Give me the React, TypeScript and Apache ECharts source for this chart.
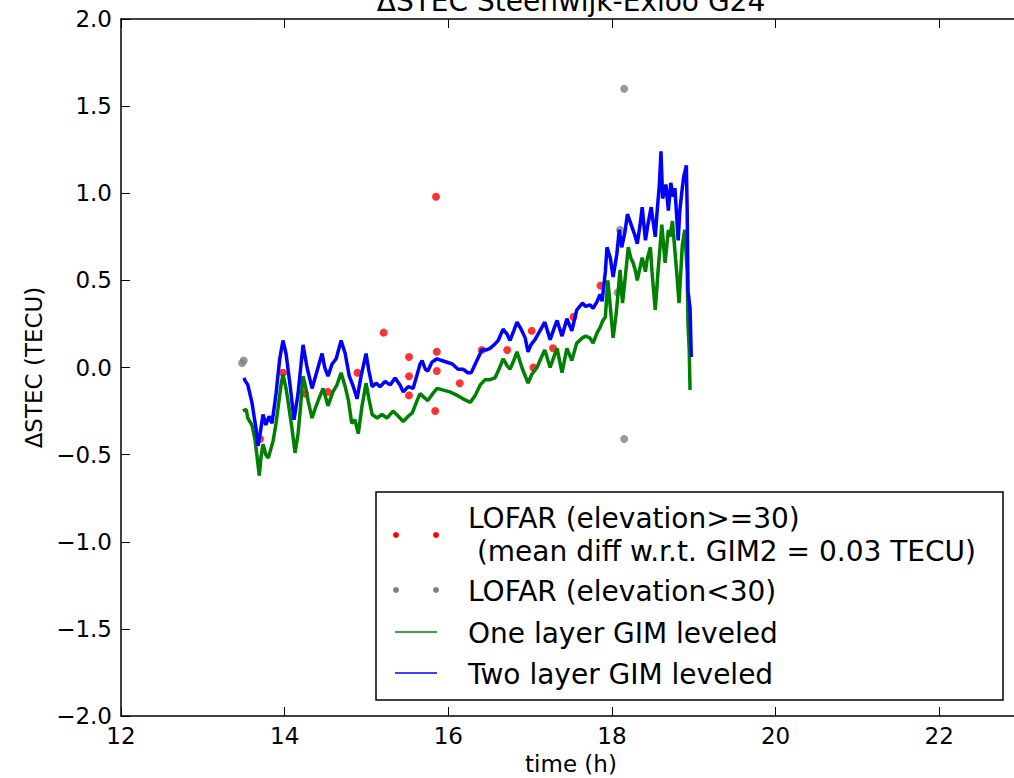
import React, { useEffect, useRef } from "react";
import * as echarts from "echarts";

// ---- data (time in hours, ΔSTEC in TECU) ----
const xTickLabels = ["12", "14", "16", "18", "20", "22"];
const yTickLabels = ["−2.0", "−1.5", "−1.0", "−0.5", "0.0", "0.5", "1.0", "1.5", "2.0"];

const twoLayer: [number, number][] = [
  [13.504, -0.06], [13.516, -0.075], [13.55, -0.1], [13.6, -0.2], [13.65, -0.35], [13.675, -0.45],
  [13.7, -0.38], [13.736, -0.27], [13.77, -0.33], [13.81, -0.28], [13.846, -0.32], [13.895, -0.15],
  [13.94, 0.05], [13.98, 0.155], [14.017, 0.08], [14.066, -0.1], [14.115, -0.3], [14.164, -0.15],
  [14.225, 0.13], [14.274, 0.0], [14.335, -0.12], [14.396, -0.02], [14.457, 0.08], [14.49, 0.0],
  [14.53, -0.05], [14.58, 0.02], [14.63, 0.05], [14.69, 0.155], [14.74, 0.08], [14.79, -0.05],
  [14.84, -0.11], [14.885, -0.18], [14.934, -0.05], [14.995, 0.08], [15.03, -0.02], [15.07, -0.11],
  [15.117, -0.09], [15.166, -0.11], [15.227, -0.08], [15.29, -0.1], [15.35, -0.06], [15.41, -0.1],
  [15.45, -0.14], [15.51, -0.11], [15.57, -0.12], [15.62, -0.04], [15.655, 0.02], [15.68, 0.04],
  [15.72, -0.01], [15.75, -0.02], [15.8, 0.03], [15.863, 0.05], [15.92, 0.04], [15.985, 0.03],
  [16.05, 0.02], [16.12, -0.01], [16.18, -0.01], [16.24, -0.03], [16.28, -0.03], [16.34, 0.03],
  [16.41, 0.1], [16.46, 0.1], [16.51, 0.11], [16.56, 0.13], [16.61, 0.155], [16.67, 0.22],
  [16.72, 0.19], [16.755, 0.155], [16.8, 0.21], [16.84, 0.26], [16.89, 0.22], [16.94, 0.17],
  [16.975, 0.09], [17.01, 0.13], [17.06, 0.16], [17.12, 0.21], [17.18, 0.26], [17.245, 0.16],
  [17.29, 0.22], [17.33, 0.27], [17.39, 0.18], [17.45, 0.28], [17.51, 0.21], [17.57, 0.33],
  [17.64, 0.37], [17.68, 0.35], [17.73, 0.36], [17.77, 0.34], [17.82, 0.38], [17.856, 0.42],
  [17.88, 0.38], [17.92, 0.55], [17.94, 0.69], [17.98, 0.63], [18.015, 0.52], [18.06, 0.65],
  [18.09, 0.79], [18.12, 0.69], [18.16, 0.78], [18.19, 0.88], [18.22, 0.84], [18.25, 0.8],
  [18.28, 0.76], [18.31, 0.71], [18.345, 0.82], [18.37, 0.92], [18.41, 0.73], [18.44, 0.82],
  [18.48, 0.92], [18.5, 0.85], [18.53, 0.75], [18.55, 0.88], [18.58, 1.05], [18.6, 1.24],
  [18.62, 0.97], [18.66, 1.05], [18.69, 0.9], [18.72, 1.06], [18.75, 0.98], [18.77, 1.03],
  [18.81, 0.73], [18.83, 0.9], [18.86, 1.03], [18.88, 1.1], [18.91, 1.16], [18.92, 0.9],
  [18.93, 0.44], [18.955, 0.34], [18.97, 0.06],
];

const oneLayer: [number, number][] = [
  [13.49, -0.25], [13.53, -0.24], [13.55, -0.29], [13.6, -0.33], [13.64, -0.42], [13.66, -0.5],
  [13.69, -0.62], [13.71, -0.52], [13.736, -0.44], [13.77, -0.5], [13.8, -0.52], [13.83, -0.47],
  [13.86, -0.42], [13.895, -0.32], [13.92, -0.23], [13.956, -0.1], [13.98, -0.04], [14.017, -0.12],
  [14.04, -0.19], [14.09, -0.35], [14.127, -0.49], [14.164, -0.38], [14.19, -0.25], [14.225, -0.05],
  [14.26, -0.12], [14.286, -0.19], [14.335, -0.29], [14.37, -0.24], [14.41, -0.19], [14.47, -0.12],
  [14.53, -0.22], [14.59, -0.14], [14.64, -0.1], [14.69, -0.03], [14.74, -0.11], [14.78, -0.19],
  [14.82, -0.32], [14.86, -0.3], [14.9, -0.38], [14.946, -0.22], [14.995, -0.09], [15.03, -0.18],
  [15.07, -0.27], [15.13, -0.29], [15.19, -0.27], [15.25, -0.29], [15.325, -0.25], [15.39, -0.28],
  [15.45, -0.31], [15.51, -0.28], [15.56, -0.26], [15.61, -0.2], [15.655, -0.15], [15.7, -0.17],
  [15.75, -0.19], [15.81, -0.15], [15.863, -0.12], [15.94, -0.13], [16.02, -0.14], [16.11, -0.16],
  [16.18, -0.18], [16.27, -0.2], [16.33, -0.16], [16.39, -0.1], [16.45, -0.07], [16.51, -0.07],
  [16.57, -0.06], [16.62, -0.01], [16.67, 0.05], [16.72, 0.01], [16.755, -0.01], [16.8, 0.04],
  [16.84, 0.09], [16.9, 0.0], [16.975, -0.09], [17.02, -0.04], [17.085, 0.0], [17.13, 0.05],
  [17.18, 0.1], [17.245, 0.0], [17.29, 0.06], [17.33, 0.11], [17.39, -0.03], [17.45, 0.11],
  [17.51, 0.04], [17.57, 0.14], [17.64, 0.17], [17.68, 0.18], [17.73, 0.17], [17.77, 0.14],
  [17.82, 0.2], [17.856, 0.23], [17.89, 0.27], [17.92, 0.29], [17.95, 0.5], [17.98, 0.35],
  [18.015, 0.17], [18.05, 0.3], [18.07, 0.4], [18.1, 0.56], [18.13, 0.37], [18.17, 0.55],
  [18.2, 0.69], [18.23, 0.63], [18.26, 0.6], [18.29, 0.55], [18.31, 0.5], [18.37, 0.63],
  [18.41, 0.55], [18.43, 0.62], [18.47, 0.69], [18.49, 0.55], [18.53, 0.33], [18.565, 0.56],
  [18.59, 0.7], [18.61, 0.82], [18.65, 0.6], [18.69, 0.79], [18.71, 0.75], [18.74, 0.84],
  [18.77, 0.67], [18.8, 0.5], [18.82, 0.37], [18.86, 0.7], [18.89, 0.79], [18.92, 0.55],
  [18.93, 0.25], [18.945, 0.1], [18.955, -0.13],
];

const lofarHigh: [number, number][] = [
  [13.7, -0.41], [13.98, -0.03], [14.25, -0.15], [14.53, -0.14], [14.89, -0.03], [15.21, 0.2],
  [15.52, 0.06], [15.52, -0.05], [15.52, -0.16], [15.85, 0.98], [15.86, 0.09], [15.86, -0.02],
  [15.84, -0.25], [16.14, -0.09], [16.41, 0.1], [16.72, 0.1], [17.02, 0.21], [17.04, 0.0],
  [17.28, 0.11], [17.53, 0.29], [17.86, 0.47],
];

const lofarLow: [number, number][] = [
  [13.48, 0.025], [13.5, 0.04], [18.07, 0.43], [18.1, 0.79], [18.15, 1.6], [18.15, -0.41],
];

const FONT = "DejaVu Sans";

export default function App() {
  const ref = useRef<HTMLDivElement>(null);

  useEffect(() => {
    if (!ref.current) return;
    const chart = echarts.init(ref.current, undefined, { renderer: "svg" });
    const fmtY = (v: number) => {
      const i = Math.round((v + 2) / 0.5);
      return yTickLabels[i] ?? "";
    };
    const fmtX = (v: number) => {
      const i = Math.round((v - 12) / 2);
      return xTickLabels[i] ?? "";
    };
    const legendX = 376, legendY = 492, legendW = 627, legendH = 208;
    const tickStyle = { show: true, inside: true, length: 9, lineStyle: { color: "#000", width: 1 } };
    chart.setOption({
      animation: false,
      backgroundColor: "#ffffff",
      grid: { left: 121, top: 19, width: 900, height: 697, containLabel: false, outerBoundsMode: "none" },
      xAxis: [
        {
          type: "value", min: 12, max: 23, interval: 2, position: "bottom",
          name: "time (h)", nameLocation: "middle", nameGap: 36,
          nameTextStyle: { fontFamily: FONT, fontSize: 23, color: "#000" },
          axisLine: { show: true, onZero: false, lineStyle: { color: "#000", width: 1.5 } },
          axisTick: tickStyle,
          axisLabel: { show: true, showMaxLabel: false, fontFamily: FONT, fontSize: 23, color: "#000", margin: 8, formatter: fmtX },
          splitLine: { show: false },
        },
        {
          type: "value", min: 12, max: 23, interval: 2, position: "top",
          axisLine: { show: true, onZero: false, lineStyle: { color: "#000", width: 1.5 } },
          axisTick: tickStyle,
          axisLabel: { show: false },
          splitLine: { show: false },
        },
      ],
      yAxis: [
        {
          type: "value", min: -2, max: 2, interval: 0.5,
          name: "ΔSTEC (TECU)", nameLocation: "middle", nameGap: 74,
          nameTextStyle: { fontFamily: FONT, fontSize: 23, color: "#000" },
          axisLine: { show: true, onZero: false, lineStyle: { color: "#000", width: 1.5 } },
          axisTick: tickStyle,
          axisLabel: { fontFamily: FONT, fontSize: 23, color: "#000", margin: 9, formatter: fmtY },
          splitLine: { show: false },
        },
      ],
      series: [
        {
          name: "LOFAR (elevation>=30)", type: "scatter", data: lofarHigh, symbol: "circle", symbolSize: 8,
          itemStyle: { color: "#ff0000" }, z: 2, silent: true,
        },
        {
          name: "LOFAR (elevation<30)", type: "scatter", data: lofarLow, symbol: "circle", symbolSize: 8,
          itemStyle: { color: "#808080" }, z: 2, silent: true,
        },
        {
          name: "One layer GIM leveled", type: "line", data: oneLayer, showSymbol: false, symbol: "none",
          lineStyle: { color: "#008000", width: 3.5 }, itemStyle: { color: "#008000" }, z: 3, silent: true,
        },
        {
          name: "Two layer GIM leveled", type: "line", data: twoLayer, showSymbol: false, symbol: "none",
          lineStyle: { color: "#0000ff", width: 3.5 }, itemStyle: { color: "#0000ff" }, z: 4, silent: true,
        },
      ],
      graphic: [
        {
          type: "text", x: 571, y: 1, z: 10,
          style: { text: "ΔSTEC Steenwijk-Exloo G24", fontFamily: FONT, fontSize: 28, fill: "#000", align: "center", verticalAlign: "middle" },
        },
        {
          type: "group", z: 20,
          children: [
            { type: "rect", shape: { x: legendX, y: legendY, width: legendW, height: legendH }, style: { fill: "#fff", stroke: "#000", lineWidth: 1.5 } },
            { type: "circle", shape: { cx: 396, cy: 535, r: 3 }, style: { fill: "#ff0000" } },
            { type: "circle", shape: { cx: 436, cy: 535, r: 3 }, style: { fill: "#ff0000" } },
            { type: "circle", shape: { cx: 396, cy: 590, r: 3 }, style: { fill: "#808080" } },
            { type: "circle", shape: { cx: 436, cy: 590, r: 3 }, style: { fill: "#808080" } },
            { type: "line", shape: { x1: 395, y1: 632, x2: 437, y2: 632 }, style: { stroke: "#008000", lineWidth: 1.5 } },
            { type: "line", shape: { x1: 395, y1: 673, x2: 437, y2: 673 }, style: { stroke: "#0000ff", lineWidth: 1.5 } },
            { type: "text", x: 468, y: 518, style: { text: "LOFAR (elevation>=30)", fontFamily: FONT, fontSize: 28, fill: "#000", align: "left", verticalAlign: "middle" } },
            { type: "text", x: 468, y: 551, style: { text: " (mean diff w.r.t. GIM2 = 0.03 TECU)", fontFamily: FONT, fontSize: 28, fill: "#000", align: "left", verticalAlign: "middle" } },
            { type: "text", x: 468, y: 591, style: { text: "LOFAR (elevation<30)", fontFamily: FONT, fontSize: 28, fill: "#000", align: "left", verticalAlign: "middle" } },
            { type: "text", x: 468, y: 633, style: { text: "One layer GIM leveled", fontFamily: FONT, fontSize: 28, fill: "#000", align: "left", verticalAlign: "middle" } },
            { type: "text", x: 468, y: 674, style: { text: "Two layer GIM leveled", fontFamily: FONT, fontSize: 28, fill: "#000", align: "left", verticalAlign: "middle" } },
          ],
        },
      ],
    });
    return () => chart.dispose();
  }, []);

  return (
    <div
      ref={ref}
      style={{ position: "absolute", left: 0, top: 0, width: 1014, height: 778, overflow: "hidden", background: "#fff" }}
    />
  );
}
